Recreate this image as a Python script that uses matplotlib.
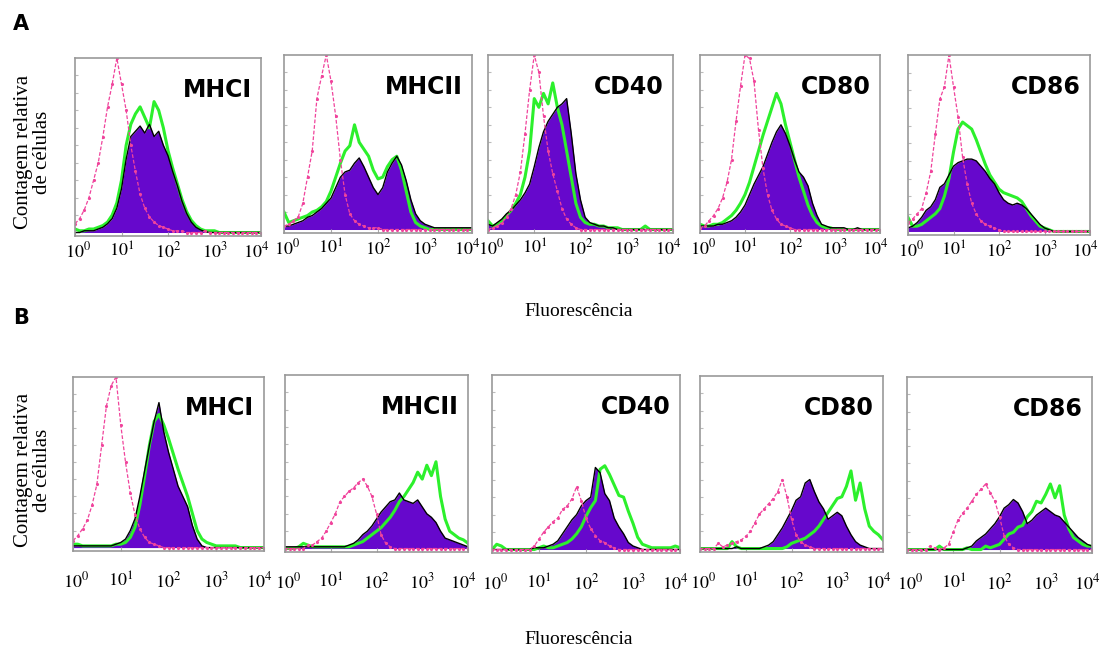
import numpy as np
import matplotlib
matplotlib.use("Agg")
import matplotlib.pyplot as plt
import matplotlib.transforms as mtransforms
from matplotlib.ticker import LogLocator, NullFormatter

plt.rcParams['mathtext.fontset'] = 'stix'

# channel grid, log10 fluorescence (decades 0..4)
decades = np.linspace(0, 4, 41)

markers = ["MHCI", "MHCII", "CD40", "CD80", "CD86"]
tick_labels = ["$10^0$", "$10^1$", "$10^2$", "$10^3$", "$10^4$"]

# ---- painel A ----
a_pink = [
    [0.05,0.08,0.13,0.20,0.30,0.40,0.55,0.72,0.85,1.00,
     0.85,0.70,0.50,0.35,0.22,0.14,0.09,0.06,0.04,0.03,
     0.02,0.01,0.01,0.01,0.00,0.00,0.00,0.00,0.01,0.00,
     0.00,0.00,0.00,0.00,0.00,0.00,0.00,0.00,0.00,0.00,0.00],
    [0.02,0.03,0.05,0.07,0.15,0.30,0.45,0.75,0.88,1.00,
     0.85,0.65,0.40,0.20,0.09,0.05,0.03,0.02,0.01,0.01,
     0.01,0.00,0.00,0.00,0.00,0.00,0.00,0.00,0.00,0.00,
     0.00,0.00,0.00,0.00,0.00,0.00,0.00,0.00,0.00,0.00,0.00],
    [0.00,0.01,0.02,0.04,0.07,0.12,0.20,0.33,0.55,0.80,
     1.00,0.90,0.65,0.45,0.32,0.22,0.12,0.06,0.03,0.01,
     0.00,0.00,0.00,0.00,0.00,0.00,0.00,0.00,0.00,0.00,
     0.00,0.00,0.00,0.00,0.00,0.00,0.00,0.00,0.00,0.00,0.00],
    [0.01,0.02,0.05,0.08,0.12,0.18,0.27,0.40,0.62,0.82,
     1.00,0.98,0.85,0.57,0.35,0.20,0.11,0.06,0.03,0.02,
     0.01,0.00,0.00,0.00,0.00,0.00,0.00,0.00,0.00,0.00,
     0.00,0.00,0.00,0.00,0.00,0.00,0.00,0.00,0.00,0.00,0.00],
    [0.05,0.07,0.10,0.13,0.22,0.34,0.55,0.75,0.82,1.00,
     0.82,0.65,0.42,0.27,0.16,0.10,0.06,0.04,0.03,0.02,
     0.01,0.00,0.00,0.00,0.00,0.00,0.00,0.00,0.00,0.00,
     0.00,0.00,0.00,0.00,0.00,0.00,0.00,0.00,0.00,0.00,0.00],
]
a_purple = [
    [0.00,0.00,0.01,0.01,0.01,0.02,0.03,0.05,0.08,0.14,
     0.25,0.42,0.55,0.58,0.61,0.57,0.62,0.55,0.58,0.50,
     0.44,0.35,0.27,0.18,0.11,0.06,0.03,0.015,0.005,0.00,
     0.00,0.00,0.00,0.00,0.00,0.00,0.00,0.00,0.00,0.00,0.00],
    [0.02,0.02,0.03,0.04,0.05,0.07,0.08,0.10,0.12,0.15,
     0.18,0.24,0.30,0.33,0.34,0.38,0.41,0.36,0.30,0.24,
     0.20,0.24,0.33,0.38,0.42,0.37,0.28,0.17,0.09,0.05,
     0.03,0.02,0.01,0.01,0.01,0.01,0.01,0.01,0.01,0.01,0.01],
    [0.03,0.02,0.04,0.06,0.09,0.11,0.14,0.17,0.21,0.26,
     0.36,0.47,0.56,0.62,0.66,0.70,0.72,0.75,0.55,0.32,
     0.17,0.07,0.04,0.03,0.02,0.02,0.01,0.01,0.00,0.00,
     0.00,0.00,0.00,0.00,0.00,0.00,0.00,0.00,0.00,0.00,0.00],
    [0.02,0.02,0.02,0.02,0.03,0.03,0.04,0.05,0.07,0.10,
     0.14,0.20,0.26,0.31,0.36,0.43,0.50,0.56,0.60,0.55,
     0.48,0.40,0.33,0.30,0.25,0.15,0.08,0.03,0.02,0.01,
     0.01,0.01,0.01,0.00,0.00,0.01,0.00,0.00,0.00,0.00,0.00],
    [0.02,0.03,0.05,0.08,0.12,0.14,0.18,0.25,0.27,0.32,
     0.37,0.39,0.40,0.41,0.41,0.40,0.37,0.34,0.30,0.27,
     0.22,0.18,0.16,0.15,0.16,0.15,0.13,0.10,0.07,0.04,
     0.02,0.01,0.00,0.00,0.00,0.00,0.00,0.00,0.00,0.00,0.00],
]
a_green = [
    [0.02,0.01,0.01,0.02,0.02,0.03,0.04,0.06,0.10,0.17,
     0.30,0.50,0.62,0.68,0.72,0.66,0.60,0.75,0.70,0.60,
     0.47,0.37,0.28,0.19,0.12,0.07,0.04,0.02,0.01,0.01,
     0.01,0.00,0.00,0.00,0.00,0.00,0.00,0.00,0.00,0.00,0.00],
    [0.10,0.04,0.05,0.06,0.07,0.08,0.10,0.11,0.13,0.16,
     0.22,0.30,0.38,0.45,0.48,0.60,0.50,0.46,0.42,0.34,
     0.29,0.30,0.36,0.40,0.42,0.34,0.22,0.10,0.04,0.02,
     0.01,0.00,0.00,0.00,0.00,0.00,0.00,0.00,0.00,0.00,0.00],
    [0.05,0.02,0.03,0.05,0.08,0.11,0.15,0.20,0.30,0.45,
     0.75,0.70,0.78,0.72,0.84,0.70,0.60,0.45,0.30,0.15,
     0.07,0.04,0.03,0.03,0.02,0.02,0.01,0.01,0.01,0.00,
     0.00,0.00,0.00,0.00,0.02,0.00,0.00,0.00,0.00,0.00,0.00],
    [0.03,0.02,0.02,0.03,0.03,0.04,0.06,0.08,0.11,0.15,
     0.20,0.27,0.36,0.45,0.54,0.62,0.70,0.78,0.72,0.60,
     0.50,0.40,0.30,0.22,0.14,0.08,0.04,0.02,0.01,0.01,
     0.00,0.00,0.00,0.00,0.00,0.00,0.00,0.00,0.00,0.00,0.00],
    [0.08,0.03,0.03,0.04,0.06,0.08,0.10,0.13,0.20,0.30,
     0.45,0.58,0.62,0.60,0.58,0.52,0.45,0.38,0.32,0.28,
     0.24,0.22,0.21,0.20,0.19,0.17,0.13,0.09,0.06,0.03,
     0.02,0.01,0.00,0.00,0.00,0.00,0.00,0.00,0.00,0.00,0.00],
]

# ---- painel B ----
b_pink = [
    [0.04,0.07,0.11,0.16,0.25,0.37,0.60,0.83,0.95,1.00,
     0.72,0.50,0.32,0.19,0.11,0.06,0.03,0.02,0.01,0.00,
     0.00,0.00,0.00,0.00,0.00,0.00,0.00,0.00,0.00,0.00,
     0.00,0.00,0.00,0.00,0.00,0.00,0.00,0.00,0.00,0.00,0.00],
    [0.00,0.00,0.00,0.00,0.00,0.02,0.02,0.04,0.06,0.10,
     0.15,0.20,0.27,0.30,0.33,0.35,0.38,0.40,0.36,0.30,
     0.20,0.08,0.03,0.01,0.00,0.00,0.00,0.00,0.00,0.00,
     0.00,0.00,0.00,0.00,0.00,0.00,0.00,0.00,0.00,0.00,0.00],
    [0.00,0.00,0.00,0.00,0.00,0.00,0.00,0.00,0.00,0.02,
     0.06,0.10,0.13,0.16,0.18,0.23,0.25,0.29,0.36,0.28,
     0.18,0.12,0.08,0.05,0.04,0.02,0.01,0.00,0.00,0.00,
     0.00,0.00,0.00,0.00,0.00,0.00,0.00,0.00,0.00,0.00,0.00],
    [0.00,0.00,0.00,0.00,0.03,0.01,0.02,0.03,0.04,0.05,
     0.07,0.10,0.15,0.20,0.23,0.26,0.29,0.33,0.40,0.30,
     0.17,0.08,0.04,0.02,0.01,0.00,0.00,0.00,0.00,0.00,
     0.00,0.00,0.00,0.00,0.00,0.00,0.00,0.00,0.00,0.00,0.00],
    [0.00,0.00,0.00,0.00,0.00,0.02,0.01,0.00,0.01,0.03,
     0.10,0.17,0.21,0.24,0.28,0.32,0.35,0.38,0.33,0.28,
     0.19,0.08,0.03,0.01,0.00,0.00,0.00,0.00,0.00,0.00,
     0.00,0.00,0.00,0.00,0.00,0.00,0.00,0.00,0.00,0.00,0.00],
]
b_purple = [
    [0.01,0.01,0.01,0.01,0.01,0.01,0.01,0.01,0.01,0.02,
     0.03,0.05,0.10,0.17,0.30,0.45,0.60,0.74,0.85,0.68,
     0.56,0.46,0.36,0.30,0.24,0.13,0.05,0.01,0.00,0.00,
     0.00,0.00,0.00,0.00,0.00,0.00,0.00,0.00,0.00,0.00,0.00],
    [0.01,0.01,0.01,0.01,0.01,0.01,0.01,0.01,0.01,0.01,
     0.01,0.01,0.01,0.01,0.02,0.03,0.05,0.08,0.10,0.13,
     0.17,0.21,0.24,0.27,0.28,0.32,0.28,0.27,0.26,0.28,
     0.24,0.20,0.18,0.15,0.10,0.06,0.05,0.04,0.03,0.02,0.01],
    [0.00,0.00,0.00,0.00,0.00,0.00,0.00,0.00,0.00,0.01,
     0.01,0.01,0.02,0.03,0.05,0.09,0.13,0.17,0.20,0.25,
     0.28,0.30,0.47,0.44,0.32,0.28,0.18,0.13,0.09,0.04,
     0.02,0.01,0.00,0.00,0.00,0.00,0.00,0.00,0.00,0.00,0.00],
    [0.00,0.00,0.00,0.00,0.00,0.00,0.00,0.00,0.01,0.00,
     0.00,0.00,0.00,0.00,0.01,0.02,0.04,0.08,0.12,0.17,
     0.22,0.28,0.30,0.38,0.40,0.33,0.27,0.23,0.17,0.19,
     0.21,0.19,0.13,0.08,0.04,0.02,0.01,0.00,0.00,0.00,0.00],
    [0.00,0.00,0.00,0.00,0.00,0.00,0.00,0.00,0.00,0.00,
     0.00,0.00,0.00,0.01,0.02,0.05,0.07,0.09,0.12,0.15,
     0.19,0.24,0.26,0.29,0.27,0.22,0.15,0.17,0.20,0.22,
     0.24,0.22,0.20,0.19,0.16,0.13,0.10,0.07,0.05,0.03,0.02],
]
b_green = [
    [0.02,0.02,0.01,0.01,0.01,0.01,0.01,0.01,0.01,0.02,
     0.02,0.03,0.06,0.12,0.25,0.42,0.60,0.74,0.78,0.72,
     0.64,0.55,0.46,0.38,0.30,0.20,0.10,0.05,0.03,0.02,
     0.01,0.01,0.01,0.01,0.01,0.00,0.00,0.00,0.00,0.00,0.00],
    [0.00,0.00,0.00,0.01,0.03,0.02,0.01,0.01,0.01,0.01,
     0.01,0.01,0.01,0.01,0.01,0.02,0.03,0.04,0.06,0.08,
     0.10,0.12,0.15,0.18,0.22,0.27,0.30,0.34,0.38,0.44,
     0.40,0.48,0.42,0.50,0.30,0.17,0.10,0.08,0.06,0.05,0.03],
    [0.00,0.03,0.02,0.00,0.00,0.00,0.00,0.00,0.00,0.00,
     0.01,0.02,0.01,0.01,0.02,0.03,0.04,0.06,0.09,0.13,
     0.19,0.24,0.28,0.46,0.48,0.43,0.37,0.31,0.30,0.22,
     0.15,0.07,0.03,0.02,0.01,0.01,0.01,0.01,0.01,0.02,0.01],
    [0.00,0.00,0.00,0.00,0.00,0.00,0.00,0.04,0.01,0.00,
     0.00,0.00,0.00,0.00,0.00,0.00,0.00,0.00,0.00,0.01,
     0.03,0.04,0.05,0.06,0.08,0.10,0.13,0.17,0.21,0.25,
     0.29,0.30,0.36,0.45,0.28,0.38,0.23,0.13,0.10,0.08,0.05],
    [0.00,0.00,0.00,0.00,0.00,0.00,0.00,0.02,0.00,0.00,
     0.00,0.00,0.00,0.01,0.00,0.00,0.00,0.02,0.01,0.02,
     0.03,0.06,0.09,0.10,0.13,0.14,0.19,0.22,0.28,0.27,
     0.32,0.38,0.30,0.37,0.20,0.12,0.07,0.05,0.03,0.02,0.02],
]

W, H = 1114, 655
fig = plt.figure(figsize=(W / 100, H / 100), dpi=100)

# panel boxes in pixels: left, top, right, bottom
boxes_a = [(75, 58, 261, 236), (284, 55, 472, 233), (488, 55, 673, 233),
           (700, 55, 880, 233), (908, 55, 1090, 235)]
boxes_b = [(73, 377, 264, 551), (285, 375, 468, 552), (492, 375, 680, 553),
           (700, 376, 883, 552), (907, 377, 1092, 553)]

purple_c = '#6608cc'
green_c = '#2cf02c'
pink_c = '#f0449c'


def draw_row(boxes, pinks, purples, greens, pad):
    x = 10 ** decades
    for i, (l, t, r, b) in enumerate(boxes):
        ax = fig.add_axes([l / W, 1 - b / H, (r - l) / W, (b - t) / H])
        ax.fill_between(x, purples[i], 0, color=purple_c, lw=0)
        ax.plot(x, greens[i], color=green_c, lw=2.2)
        ax.plot(x, purples[i], color='black', lw=1.0)
        ax.plot(x, pinks[i], color=pink_c, lw=0.9, ls=(0, (3, 1.5)),
                marker='.', ms=2.5)
        ax.set_xscale('log')
        ax.set_xlim(1, 1e4)
        ax.set_ylim(-0.02, 1.0)
        ax.set_xticks([1, 10, 100, 1000, 10000])
        ax.set_xticklabels(tick_labels, fontsize=13)
        ax.xaxis.set_minor_locator(LogLocator(base=10, subs=np.arange(2, 10)))
        ax.xaxis.set_minor_formatter(NullFormatter())
        ax.set_yticks(np.arange(0.1, 1.0, 0.1))
        ax.set_yticklabels([])
        ax.tick_params(axis='x', which='major', direction='in', length=3,
                       color='#aaaaaa', pad=pad)
        ax.tick_params(axis='x', which='minor', direction='in', length=1.5,
                       color='#bbbbbb')
        ax.tick_params(axis='y', direction='in', length=2, color='#bbbbbb')
        # nudge the end labels inward so neighbouring panels don't collide
        ticks = ax.xaxis.get_major_ticks()
        for tk, dx in ((ticks[0], 3), (ticks[-1], -5)):
            off = mtransforms.ScaledTranslation(dx / 100, 0, fig.dpi_scale_trans)
            tk.label1.set_transform(tk.label1.get_transform() + off)
        for s in ax.spines.values():
            s.set_color('#999999')
            s.set_linewidth(1.2)
        ax.text(0.95, 0.82, markers[i], transform=ax.transAxes, ha='right',
                va='center', fontsize=17, fontweight='bold',
                family='DejaVu Sans')


draw_row(boxes_a, a_pink, a_purple, a_green, pad=4)
draw_row(boxes_b, b_pink, b_purple, b_green, pad=15)

serif = 'Liberation Serif'
fig.text(21 / W, 1 - 24 / H, 'A', fontsize=15, fontweight='bold',
         ha='center', va='center', family='DejaVu Sans')
fig.text(21 / W, 1 - 318 / H, 'B', fontsize=15, fontweight='bold',
         ha='center', va='center', family='DejaVu Sans')
for yc in (152, 470):
    fig.text(33 / W, 1 - yc / H, 'Contagem relativa\nde células',
             rotation=90, ha='center', va='center', fontsize=15,
             family=serif, linespacing=0.95)
fig.text(579 / W, 1 - 312 / H, 'Fluorescência', ha='center', va='center',
         fontsize=14, family=serif)
fig.text(579 / W, 1 - 640 / H, 'Fluorescência', ha='center', va='center',
         fontsize=14, family=serif)

fig.savefig('out.png', dpi=100)
